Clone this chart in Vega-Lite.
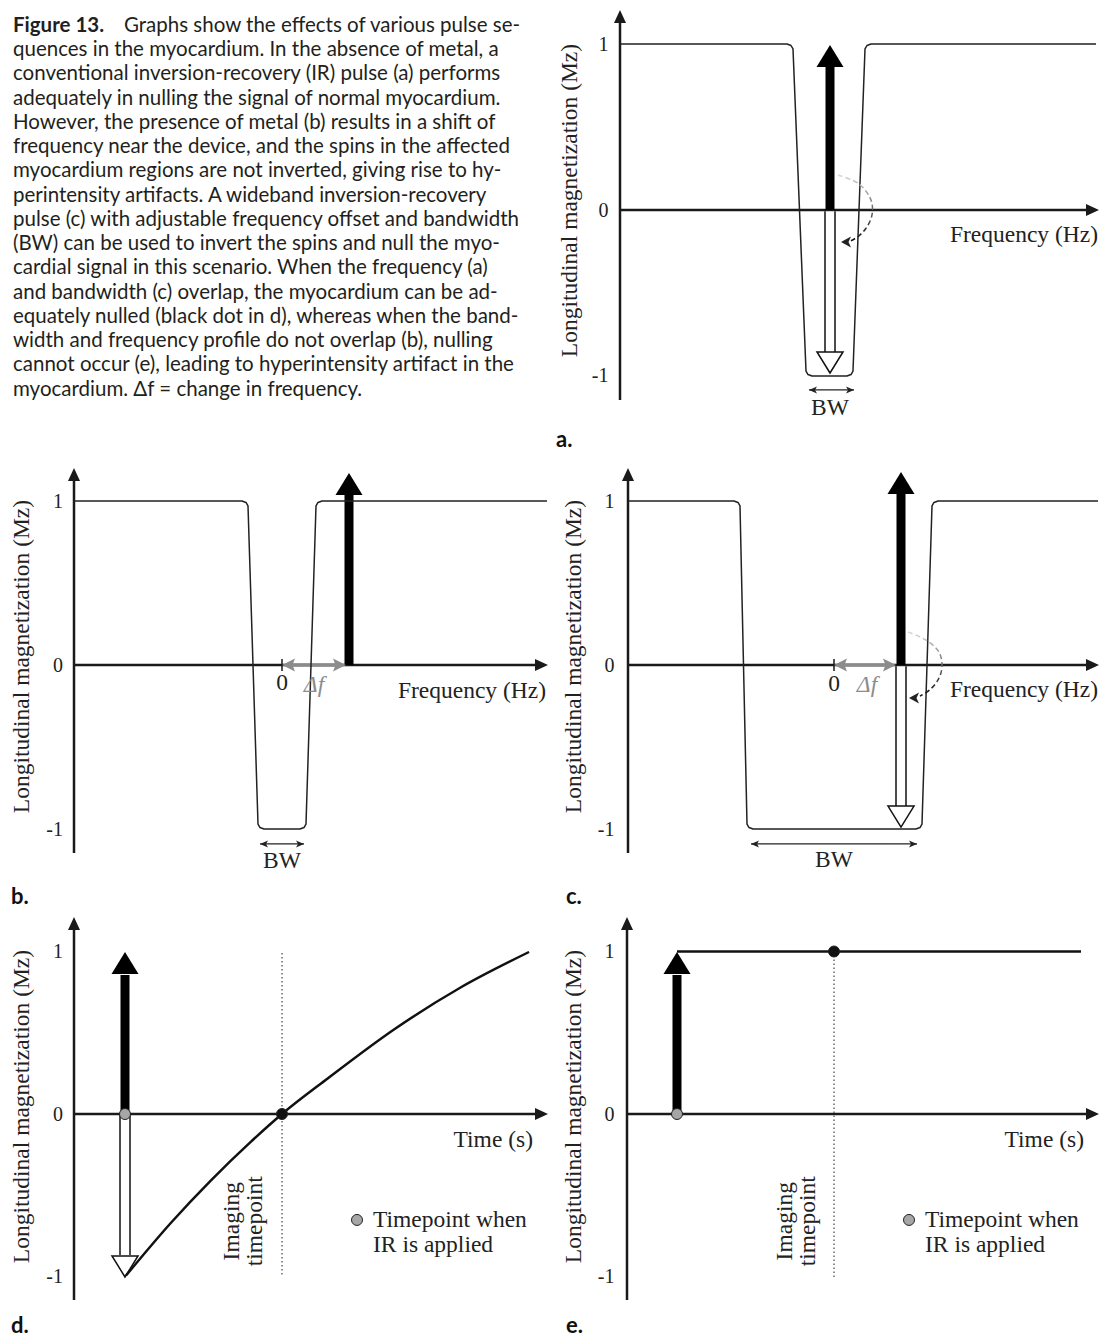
{
"$schema": "https://vega.github.io/schema/vega-lite/v6.json",
"padding": {"left": 9, "top": 0, "right": 0, "bottom": 0},
"background": "white",
"columns": 2,
"align": "each",
"bounds": "flush",
"spacing": {"row": 62, "column": 72},
"config": {
  "view": {"stroke": null},
  "legend": {"disable": true},
  "axis": {"labelFont": "Liberation Serif", "labelFontSize": 20, "labelColor": "#222", "titleFont": "Liberation Serif", "titleFontSize": 23.5, "titleFontWeight": "normal", "titleColor": "#222", "domain": false, "ticks": false, "tickSize": 0, "grid": false},
  "title": {"font": "Lato", "fontSize": 22, "fontWeight": "bold", "color": "#111", "orient": "bottom", "anchor": "start", "frame": "group", "baseline": "top"},
  "text": {"font": "Liberation Serif", "fontSize": 23.5, "color": "#222"}
},
"datasets": {
  "caption": [
    {"line": 1, "part": "label", "text": "Figure 13."},
    {"line": 1, "part": "first", "text": "Graphs show the effects of various pulse se-"},
    {"line": 2, "part": "body", "text": "quences in the myocardium. In the absence of metal, a"},
    {"line": 3, "part": "body", "text": "conventional inversion-recovery (IR) pulse (a) performs"},
    {"line": 4, "part": "body", "text": "adequately in nulling the signal of normal myocardium."},
    {"line": 5, "part": "body", "text": "However, the presence of metal (b) results in a shift of"},
    {"line": 6, "part": "body", "text": "frequency near the device, and the spins in the affected"},
    {"line": 7, "part": "body", "text": "myocardium regions are not inverted, giving rise to hy-"},
    {"line": 8, "part": "body", "text": "perintensity artifacts. A wideband inversion-recovery"},
    {"line": 9, "part": "body", "text": "pulse (c) with adjustable frequency offset and bandwidth"},
    {"line": 10, "part": "body", "text": "(BW) can be used to invert the spins and null the myo-"},
    {"line": 11, "part": "body", "text": "cardial signal in this scenario. When the frequency (a)"},
    {"line": 12, "part": "body", "text": "and bandwidth (c) overlap, the myocardium can be ad-"},
    {"line": 13, "part": "body", "text": "equately nulled (black dot in d), whereas when the band-"},
    {"line": 14, "part": "body", "text": "width and frequency profile do not overlap (b), nulling"},
    {"line": 15, "part": "body", "text": "cannot occur (e), leading to hyperintensity artifact in the"},
    {"line": 16, "part": "body", "text": "myocardium. Δf = change in frequency."}
  ],
  "rules": [
    {"panel": "a", "kind": "axis", "x": 0, "y": -1.1446, "x2": 0, "y2": 1.145},
    {"panel": "a", "kind": "axis", "x": 0, "y": 0, "x2": 93.4, "y2": 0},
    {"panel": "a", "kind": "shaft", "x": 42, "y": 0, "x2": 42, "y2": 0.861},
    {"panel": "a", "kind": "bw", "x": 37.8, "y": -1.084, "x2": 46.8, "y2": -1.084},
    {"panel": "b", "kind": "axis", "x": 0, "y": -1.146, "x2": 0, "y2": 1.14},
    {"panel": "b", "kind": "axis", "x": 0, "y": 0, "x2": 92.4, "y2": 0},
    {"panel": "b", "kind": "tick", "x": 41.6, "y": -0.037, "x2": 41.6, "y2": 0.037},
    {"panel": "b", "kind": "df", "x": 43.4, "y": 0, "x2": 52.6, "y2": 0},
    {"panel": "b", "kind": "shaft", "x": 55, "y": 0, "x2": 55, "y2": 1.037},
    {"panel": "b", "kind": "bw", "x": 37.2, "y": -1.091, "x2": 46, "y2": -1.091},
    {"panel": "c", "kind": "axis", "x": 0, "y": -1.146, "x2": 0, "y2": 1.14},
    {"panel": "c", "kind": "axis", "x": 0, "y": 0, "x2": 91.8, "y2": 0},
    {"panel": "c", "kind": "tick", "x": 41.2, "y": -0.037, "x2": 41.2, "y2": 0.037},
    {"panel": "c", "kind": "df", "x": 43, "y": 0, "x2": 51.8, "y2": 0},
    {"panel": "c", "kind": "shaft", "x": 54.6, "y": 0, "x2": 54.6, "y2": 1.043},
    {"panel": "c", "kind": "bw", "x": 24.6, "y": -1.091, "x2": 57.8, "y2": -1.091},
    {"panel": "d", "kind": "axis", "x": 0, "y": -1.1446, "x2": 0, "y2": 1.151},
    {"panel": "d", "kind": "axis", "x": 0, "y": 0, "x2": 92.4, "y2": 0},
    {"panel": "d", "kind": "dotted", "x": 41.6, "y": 0.991, "x2": 41.6, "y2": -1.003},
    {"panel": "d", "kind": "shaft", "x": 10.2, "y": 0, "x2": 10.2, "y2": 0.855},
    {"panel": "e", "kind": "axis", "x": 0, "y": -1.1446, "x2": 0, "y2": 1.151},
    {"panel": "e", "kind": "axis", "x": 0, "y": 0, "x2": 92, "y2": 0},
    {"panel": "e", "kind": "dotted", "x": 41.4, "y": 1.0, "x2": 41.4, "y2": -1.003},
    {"panel": "e", "kind": "shaft", "x": 10, "y": 0, "x2": 10, "y2": 0.855}
  ],
  "hollow": [
    {"panel": "a", "x": 42, "y": -0.008, "y2": -0.855},
    {"panel": "c", "x": 54.6, "y": -0.008, "y2": -0.866},
    {"panel": "d", "x": 10.2, "y": -0.008, "y2": -0.868}
  ],
  "whiteheads": [
    {"panel": "a", "x": 42, "y": -0.982},
    {"panel": "c", "x": 54.6, "y": -0.988},
    {"panel": "d", "x": 10.2, "y": -1.003}
  ],
  "heads": [
    {"panel": "a", "kind": "axis-up", "x": 0, "y": 1.205},
    {"panel": "a", "kind": "axis-right", "x": 95.8, "y": 0},
    {"panel": "a", "kind": "black-up", "x": 42, "y": 0.994},
    {"panel": "a", "kind": "bw-left", "x": 37.8, "y": -1.084},
    {"panel": "a", "kind": "bw-right", "x": 46.8, "y": -1.084},
    {"panel": "a", "kind": "arc-left", "x": 44.2, "y": -0.193},
    {"panel": "b", "kind": "axis-up", "x": 0, "y": 1.201},
    {"panel": "b", "kind": "axis-right", "x": 94.8, "y": 0},
    {"panel": "b", "kind": "black-up", "x": 55, "y": 1.171},
    {"panel": "b", "kind": "df-left", "x": 41.6, "y": 0},
    {"panel": "b", "kind": "df-right", "x": 54.4, "y": 0},
    {"panel": "b", "kind": "bw-left", "x": 37.2, "y": -1.091},
    {"panel": "b", "kind": "bw-right", "x": 46, "y": -1.091},
    {"panel": "c", "kind": "axis-up", "x": 0, "y": 1.201},
    {"panel": "c", "kind": "axis-right", "x": 94.2, "y": 0},
    {"panel": "c", "kind": "black-up", "x": 54.6, "y": 1.177},
    {"panel": "c", "kind": "df-left", "x": 41.2, "y": 0},
    {"panel": "c", "kind": "df-right", "x": 53.6, "y": 0},
    {"panel": "c", "kind": "bw-left", "x": 24.6, "y": -1.091},
    {"panel": "c", "kind": "bw-right", "x": 57.8, "y": -1.091},
    {"panel": "c", "kind": "arc-left", "x": 56.2, "y": -0.201},
    {"panel": "d", "kind": "axis-up", "x": 0, "y": 1.212},
    {"panel": "d", "kind": "axis-right", "x": 94.8, "y": 0},
    {"panel": "d", "kind": "black-up", "x": 10.2, "y": 0.997},
    {"panel": "e", "kind": "axis-up", "x": 0, "y": 1.212},
    {"panel": "e", "kind": "axis-right", "x": 94.4, "y": 0},
    {"panel": "e", "kind": "black-up", "x": 10, "y": 0.997}
  ],
  "profile": [
    {"panel": "a", "x": 0, "y": 1}, {"panel": "a", "x": 33.4, "y": 1}, {"panel": "a", "x": 34.2, "y": 0.991}, {"panel": "a", "x": 34.6, "y": 0.97},
    {"panel": "a", "x": 37.2, "y": -0.97}, {"panel": "a", "x": 37.6, "y": -0.991}, {"panel": "a", "x": 38.4, "y": -1}, {"panel": "a", "x": 45.4, "y": -1},
    {"panel": "a", "x": 46.2, "y": -0.991}, {"panel": "a", "x": 46.6, "y": -0.97}, {"panel": "a", "x": 49, "y": 0.97}, {"panel": "a", "x": 49.4, "y": 0.991},
    {"panel": "a", "x": 50.2, "y": 1}, {"panel": "a", "x": 95.2, "y": 1},
    {"panel": "b", "x": 0, "y": 1}, {"panel": "b", "x": 33.6, "y": 1}, {"panel": "b", "x": 34.4, "y": 0.991}, {"panel": "b", "x": 34.8, "y": 0.97},
    {"panel": "b", "x": 36.8, "y": -0.97}, {"panel": "b", "x": 37.2, "y": -0.991}, {"panel": "b", "x": 38, "y": -1}, {"panel": "b", "x": 45.2, "y": -1},
    {"panel": "b", "x": 46, "y": -0.991}, {"panel": "b", "x": 46.4, "y": -0.97}, {"panel": "b", "x": 48.4, "y": 0.97}, {"panel": "b", "x": 48.8, "y": 0.991},
    {"panel": "b", "x": 49.6, "y": 1}, {"panel": "b", "x": 94.6, "y": 1},
    {"panel": "c", "x": 0, "y": 1}, {"panel": "c", "x": 21.2, "y": 1}, {"panel": "c", "x": 22, "y": 0.991}, {"panel": "c", "x": 22.4, "y": 0.97},
    {"panel": "c", "x": 23.8, "y": -0.97}, {"panel": "c", "x": 24.2, "y": -0.991}, {"panel": "c", "x": 25, "y": -1}, {"panel": "c", "x": 57.6, "y": -1},
    {"panel": "c", "x": 58.4, "y": -0.991}, {"panel": "c", "x": 58.8, "y": -0.97}, {"panel": "c", "x": 60.8, "y": 0.97}, {"panel": "c", "x": 61.2, "y": 0.991},
    {"panel": "c", "x": 62, "y": 1}, {"panel": "c", "x": 94, "y": 1},
    {"panel": "d", "x": 10.4, "y": -0.994}, {"panel": "d", "x": 19.4, "y": -0.669}, {"panel": "d", "x": 27.4, "y": -0.408}, {"panel": "d", "x": 35.4, "y": -0.17},
    {"panel": "d", "x": 41.6, "y": 0}, {"panel": "d", "x": 50.8, "y": 0.22}, {"panel": "d", "x": 64, "y": 0.52}, {"panel": "d", "x": 77.4, "y": 0.78}, {"panel": "d", "x": 91, "y": 0.997},
    {"panel": "e", "x": 10, "y": 1}, {"panel": "e", "x": 90.8, "y": 1}
  ],
  "arc": [
    {"panel": "a", "i": 1, "x": 43.6, "y": 0.211}, {"panel": "a", "i": 2, "x": 47.8, "y": 0.157}, {"panel": "a", "i": 3, "x": 50.2, "y": 0.06},
    {"panel": "a", "i": 4, "x": 50.4, "y": -0.03}, {"panel": "a", "i": 5, "x": 49.2, "y": -0.11}, {"panel": "a", "i": 6, "x": 47.6, "y": -0.16}, {"panel": "a", "i": 7, "x": 46.2, "y": -0.185},
    {"panel": "c", "i": 1, "x": 56, "y": 0.201}, {"panel": "c", "i": 2, "x": 59.6, "y": 0.152}, {"panel": "c", "i": 3, "x": 62.2, "y": 0.079},
    {"panel": "c", "i": 4, "x": 62.8, "y": -0.012}, {"panel": "c", "i": 5, "x": 62, "y": -0.091}, {"panel": "c", "i": 6, "x": 60.4, "y": -0.15}, {"panel": "c", "i": 7, "x": 58.4, "y": -0.19}
  ],
  "dots": [
    {"panel": "d", "kind": "ir", "x": 10.2, "y": 0},
    {"panel": "d", "kind": "imaging", "x": 41.6, "y": 0},
    {"panel": "d", "kind": "ir", "x": 56.6, "y": -0.652},
    {"panel": "e", "kind": "ir", "x": 10, "y": 0},
    {"panel": "e", "kind": "imaging", "x": 41.4, "y": 1},
    {"panel": "e", "kind": "ir", "x": 56.4, "y": -0.652}
  ],
  "labels": [
    {"panel": "a", "style": "center", "x": 42, "y": -1.193, "label": "BW"},
    {"panel": "a", "style": "right", "x": 95.6, "y": -0.151, "label": "Frequency (Hz)"},
    {"panel": "b", "style": "center", "x": 41.6, "y": -1.195, "label": "BW"},
    {"panel": "b", "style": "center", "x": 41.6, "y": -0.11, "label": "0"},
    {"panel": "b", "style": "right", "x": 94.4, "y": -0.159, "label": "Frequency (Hz)"},
    {"panel": "b", "style": "df", "x": 48, "y": -0.122, "label": "Δf"},
    {"panel": "c", "style": "center", "x": 41.2, "y": -1.189, "label": "BW"},
    {"panel": "c", "style": "center", "x": 41.2, "y": -0.116, "label": "0"},
    {"panel": "c", "style": "right", "x": 94, "y": -0.152, "label": "Frequency (Hz)"},
    {"panel": "c", "style": "df", "x": 47.8, "y": -0.122, "label": "Δf"},
    {"panel": "d", "style": "right", "x": 91.8, "y": -0.16, "label": "Time (s)"},
    {"panel": "d", "style": "rot", "x": 31.6, "y": -0.66, "label": ["Imaging", "timepoint"]},
    {"panel": "d", "style": "left", "x": 59.8, "y": -0.652, "label": ["Timepoint when", "IR is applied"]},
    {"panel": "e", "style": "right", "x": 91.4, "y": -0.16, "label": "Time (s)"},
    {"panel": "e", "style": "rot", "x": 31.5, "y": -0.66, "label": ["Imaging", "timepoint"]},
    {"panel": "e", "style": "left", "x": 59.6, "y": -0.652, "label": ["Timepoint when", "IR is applied"]}
  ]
},
"concat": [
  {
    "width": 474, "height": 400,
    "data": {"name": "caption"},
    "encoding": {
      "x": {"datum": 0, "type": "quantitative", "scale": {"domain": [0, 1]}, "axis": null},
      "y": {"field": "line", "type": "quantitative", "scale": {"domain": [-0.306, 16.175], "reverse": true, "nice": false, "zero": false}, "axis": null},
      "text": {"field": "text", "type": "nominal"}
    },
    "layer": [
      {"transform": [{"filter": "datum.part == 'label'"}], "mark": {"type": "text", "font": "Lato", "fontSize": 20.5, "fontWeight": "bold", "align": "left", "baseline": "alphabetic", "dx": -61, "color": "#231f20"}},
      {"transform": [{"filter": "datum.part == 'first'"}], "mark": {"type": "text", "font": "Lato", "fontSize": 20.5, "align": "left", "baseline": "alphabetic", "dx": 50, "color": "#231f20"}},
      {"transform": [{"filter": "datum.part == 'body'"}], "mark": {"type": "text", "font": "Lato", "fontSize": 20.5, "align": "left", "baseline": "alphabetic", "dx": -61, "color": "#231f20"}}
    ]
  },
  {
    "width": 479, "height": 400,
    "title": {"text": "a.", "dx": -64, "offset": 10},
    "encoding": {
      "x": {"field": "x", "type": "quantitative", "scale": {"domain": [0, 95.8], "nice": false, "zero": false}, "axis": null},
      "y": {"field": "y", "type": "quantitative", "scale": {"domain": [-1.1446, 1.2651], "nice": false, "zero": false}, "axis": {"values": [-1, 0, 1], "labelExpr": "toString(datum.value)", "title": "Longitudinal magnetization (Mz)", "labelPadding": 12, "titlePadding": 10}}
    },
    "layer": [
      {"data": {"name": "rules"}, "transform": [{"filter": "datum.panel == 'a'"}], "mark": {"type": "rule"},
       "encoding": {"x2": {"field": "x2"}, "y2": {"field": "y2"},
         "color": {"field": "kind", "type": "nominal", "legend": null, "scale": {"domain": ["axis","tick","bw","df","dotted","shaft","axis-up","axis-right","black-up","bw-left","bw-right","df-left","df-right","arc-left"], "range": ["#1a1a1a","#1a1a1a","#222222","#8c8c8c","#555555","#000000","#1a1a1a","#1a1a1a","#000000","#222222","#222222","#8c8c8c","#8c8c8c","#222222"]}},
         "strokeWidth": {"field": "kind", "type": "nominal", "legend": null, "scale": {"type": "ordinal", "domain": ["axis","tick","bw","df","dotted","shaft"], "range": [2.5, 1.5, 1.3, 3.5, 1.3, 9]}},
         "strokeDash": {"field": "kind", "type": "nominal", "legend": null, "scale": {"domain": ["axis","tick","bw","df","dotted","shaft"], "range": [[1,0],[1,0],[1,0],[1,0],[1.5,2.5],[1,0]]}}}},
      {"data": {"name": "hollow"}, "transform": [{"filter": "datum.panel == 'a'"}], "mark": {"type": "rule", "color": "#111111", "strokeWidth": 11.5}, "encoding": {"y2": {"field": "y2"}}},
      {"data": {"name": "hollow"}, "transform": [{"filter": "datum.panel == 'a'"}], "mark": {"type": "rule", "color": "#ffffff", "strokeWidth": 8.5}, "encoding": {"y2": {"field": "y2"}}},
      {"data": {"name": "whiteheads"}, "transform": [{"filter": "datum.panel == 'a'"}], "mark": {"type": "point", "shape": "M0,0L-13,-21L13,-21Z", "size": 4, "filled": true, "fill": "#ffffff", "stroke": "#111111", "strokeWidth": 1.5, "opacity": 1}},
      {"data": {"name": "profile"}, "transform": [{"filter": "datum.panel == 'a'"}], "mark": {"type": "line", "color": "#222222", "strokeWidth": 1.5, "strokeJoin": "round"}},
      {"data": {"name": "arc"}, "transform": [{"filter": "datum.panel == 'a'"}], "mark": {"type": "line", "stroke": {"gradient": "linear", "x1": 0, "y1": 0, "x2": 0, "y2": 1, "stops": [{"offset": 0, "color": "#d9d9d9"}, {"offset": 0.45, "color": "#777777"}, {"offset": 1, "color": "#111111"}]}, "strokeWidth": 1.5, "strokeDash": [5, 3], "interpolate": "catmull-rom"}, "encoding": {"order": {"field": "i", "type": "quantitative"}}},
      {"data": {"name": "heads"}, "transform": [{"filter": "datum.panel == 'a'"}], "mark": {"type": "point", "size": 4, "filled": true, "opacity": 1},
       "encoding": {
         "shape": {"field": "kind", "type": "nominal", "legend": null, "scale": {"domain": ["axis-up","axis-right","black-up","bw-left","bw-right","df-left","df-right","arc-left"], "range": ["M0,0L-6,13L6,13Z","M0,0L-13,-6L-13,6Z","M0,0L-13.5,22L13.5,22Z","M0,0L8,-3.5L6,0L8,3.5Z","M0,0L-8,-3.5L-6,0L-8,3.5Z","M0,0L13,-6.5L10.5,0L13,6.5Z","M0,0L-13,-6.5L-10.5,0L-13,6.5Z","M0,0L10,-5.5L7.5,0L10,5.5Z"]}},
         "color": {"field": "kind", "type": "nominal", "legend": null, "scale": {"domain": ["axis","tick","bw","df","dotted","shaft","axis-up","axis-right","black-up","bw-left","bw-right","df-left","df-right","arc-left"], "range": ["#1a1a1a","#1a1a1a","#222222","#8c8c8c","#555555","#000000","#1a1a1a","#1a1a1a","#000000","#222222","#222222","#8c8c8c","#8c8c8c","#222222"]}}}},
      {"data": {"name": "labels"}, "transform": [{"filter": "datum.panel == 'a' && datum.style == 'center'"}], "mark": {"type": "text", "align": "center", "baseline": "middle"}, "encoding": {"text": {"field": "label", "type": "nominal"}}},
      {"data": {"name": "labels"}, "transform": [{"filter": "datum.panel == 'a' && datum.style == 'right'"}], "mark": {"type": "text", "align": "right", "baseline": "middle"}, "encoding": {"text": {"field": "label", "type": "nominal"}}}
    ]
  },
  {
    "width": 474, "height": 388,
    "title": {"text": "b.", "dx": -63, "offset": 15},
    "encoding": {
      "x": {"field": "x", "type": "quantitative", "scale": {"domain": [0, 94.8], "nice": false, "zero": false}, "axis": null},
      "y": {"field": "y", "type": "quantitative", "scale": {"domain": [-1.128, 1.2378], "nice": false, "zero": false}, "axis": {"values": [-1, 0, 1], "labelExpr": "toString(datum.value)", "title": "Longitudinal magnetization (Mz)", "labelPadding": 11.5, "titlePadding": 12}}
    },
    "layer": [
      {"data": {"name": "rules"}, "transform": [{"filter": "datum.panel == 'b'"}], "mark": {"type": "rule"},
       "encoding": {"x2": {"field": "x2"}, "y2": {"field": "y2"},
         "color": {"field": "kind", "type": "nominal", "legend": null, "scale": {"domain": ["axis","tick","bw","df","dotted","shaft","axis-up","axis-right","black-up","bw-left","bw-right","df-left","df-right","arc-left"], "range": ["#1a1a1a","#1a1a1a","#222222","#8c8c8c","#555555","#000000","#1a1a1a","#1a1a1a","#000000","#222222","#222222","#8c8c8c","#8c8c8c","#222222"]}},
         "strokeWidth": {"field": "kind", "type": "nominal", "legend": null, "scale": {"type": "ordinal", "domain": ["axis","tick","bw","df","dotted","shaft"], "range": [2.5, 1.5, 1.3, 3.5, 1.3, 9]}},
         "strokeDash": {"field": "kind", "type": "nominal", "legend": null, "scale": {"domain": ["axis","tick","bw","df","dotted","shaft"], "range": [[1,0],[1,0],[1,0],[1,0],[1.5,2.5],[1,0]]}}}},
      {"data": {"name": "profile"}, "transform": [{"filter": "datum.panel == 'b'"}], "mark": {"type": "line", "color": "#222222", "strokeWidth": 1.5, "strokeJoin": "round"}},
      {"data": {"name": "heads"}, "transform": [{"filter": "datum.panel == 'b'"}], "mark": {"type": "point", "size": 4, "filled": true, "opacity": 1},
       "encoding": {
         "shape": {"field": "kind", "type": "nominal", "legend": null, "scale": {"domain": ["axis-up","axis-right","black-up","bw-left","bw-right","df-left","df-right","arc-left"], "range": ["M0,0L-6,13L6,13Z","M0,0L-13,-6L-13,6Z","M0,0L-13.5,22L13.5,22Z","M0,0L8,-3.5L6,0L8,3.5Z","M0,0L-8,-3.5L-6,0L-8,3.5Z","M0,0L13,-6.5L10.5,0L13,6.5Z","M0,0L-13,-6.5L-10.5,0L-13,6.5Z","M0,0L10,-5.5L7.5,0L10,5.5Z"]}},
         "color": {"field": "kind", "type": "nominal", "legend": null, "scale": {"domain": ["axis","tick","bw","df","dotted","shaft","axis-up","axis-right","black-up","bw-left","bw-right","df-left","df-right","arc-left"], "range": ["#1a1a1a","#1a1a1a","#222222","#8c8c8c","#555555","#000000","#1a1a1a","#1a1a1a","#000000","#222222","#222222","#8c8c8c","#8c8c8c","#222222"]}}}},
      {"data": {"name": "labels"}, "transform": [{"filter": "datum.panel == 'b' && datum.style == 'center'"}], "mark": {"type": "text", "align": "center", "baseline": "middle"}, "encoding": {"text": {"field": "label", "type": "nominal"}}},
      {"data": {"name": "labels"}, "transform": [{"filter": "datum.panel == 'b' && datum.style == 'right'"}], "mark": {"type": "text", "align": "right", "baseline": "middle"}, "encoding": {"text": {"field": "label", "type": "nominal"}}},
      {"data": {"name": "labels"}, "transform": [{"filter": "datum.panel == 'b' && datum.style == 'df'"}], "mark": {"type": "text", "align": "center", "baseline": "middle", "color": "#8c8c8c", "fontStyle": "italic"}, "encoding": {"text": {"field": "label", "type": "nominal"}}}
    ]
  },
  {
    "width": 479, "height": 388,
    "title": {"text": "c.", "dx": -54, "offset": 15},
    "encoding": {
      "x": {"field": "x", "type": "quantitative", "scale": {"domain": [-1.6, 94.2], "nice": false, "zero": false}, "axis": null},
      "y": {"field": "y", "type": "quantitative", "scale": {"domain": [-1.128, 1.2378], "nice": false, "zero": false}, "axis": {"values": [-1, 0, 1], "labelExpr": "toString(datum.value)", "title": "Longitudinal magnetization (Mz)", "labelPadding": 6, "titlePadding": 12}}
    },
    "layer": [
      {"data": {"name": "rules"}, "transform": [{"filter": "datum.panel == 'c'"}], "mark": {"type": "rule"},
       "encoding": {"x2": {"field": "x2"}, "y2": {"field": "y2"},
         "color": {"field": "kind", "type": "nominal", "legend": null, "scale": {"domain": ["axis","tick","bw","df","dotted","shaft","axis-up","axis-right","black-up","bw-left","bw-right","df-left","df-right","arc-left"], "range": ["#1a1a1a","#1a1a1a","#222222","#8c8c8c","#555555","#000000","#1a1a1a","#1a1a1a","#000000","#222222","#222222","#8c8c8c","#8c8c8c","#222222"]}},
         "strokeWidth": {"field": "kind", "type": "nominal", "legend": null, "scale": {"type": "ordinal", "domain": ["axis","tick","bw","df","dotted","shaft"], "range": [2.5, 1.5, 1.3, 3.5, 1.3, 9]}},
         "strokeDash": {"field": "kind", "type": "nominal", "legend": null, "scale": {"domain": ["axis","tick","bw","df","dotted","shaft"], "range": [[1,0],[1,0],[1,0],[1,0],[1.5,2.5],[1,0]]}}}},
      {"data": {"name": "hollow"}, "transform": [{"filter": "datum.panel == 'c'"}], "mark": {"type": "rule", "color": "#111111", "strokeWidth": 11.5}, "encoding": {"y2": {"field": "y2"}}},
      {"data": {"name": "hollow"}, "transform": [{"filter": "datum.panel == 'c'"}], "mark": {"type": "rule", "color": "#ffffff", "strokeWidth": 8.5}, "encoding": {"y2": {"field": "y2"}}},
      {"data": {"name": "whiteheads"}, "transform": [{"filter": "datum.panel == 'c'"}], "mark": {"type": "point", "shape": "M0,0L-13,-21L13,-21Z", "size": 4, "filled": true, "fill": "#ffffff", "stroke": "#111111", "strokeWidth": 1.5, "opacity": 1}},
      {"data": {"name": "profile"}, "transform": [{"filter": "datum.panel == 'c'"}], "mark": {"type": "line", "color": "#222222", "strokeWidth": 1.5, "strokeJoin": "round"}},
      {"data": {"name": "arc"}, "transform": [{"filter": "datum.panel == 'c'"}], "mark": {"type": "line", "stroke": {"gradient": "linear", "x1": 0, "y1": 0, "x2": 0, "y2": 1, "stops": [{"offset": 0, "color": "#d9d9d9"}, {"offset": 0.45, "color": "#777777"}, {"offset": 1, "color": "#111111"}]}, "strokeWidth": 1.5, "strokeDash": [5, 3], "interpolate": "catmull-rom"}, "encoding": {"order": {"field": "i", "type": "quantitative"}}},
      {"data": {"name": "heads"}, "transform": [{"filter": "datum.panel == 'c'"}], "mark": {"type": "point", "size": 4, "filled": true, "opacity": 1},
       "encoding": {
         "shape": {"field": "kind", "type": "nominal", "legend": null, "scale": {"domain": ["axis-up","axis-right","black-up","bw-left","bw-right","df-left","df-right","arc-left"], "range": ["M0,0L-6,13L6,13Z","M0,0L-13,-6L-13,6Z","M0,0L-13.5,22L13.5,22Z","M0,0L8,-3.5L6,0L8,3.5Z","M0,0L-8,-3.5L-6,0L-8,3.5Z","M0,0L13,-6.5L10.5,0L13,6.5Z","M0,0L-13,-6.5L-10.5,0L-13,6.5Z","M0,0L10,-5.5L7.5,0L10,5.5Z"]}},
         "color": {"field": "kind", "type": "nominal", "legend": null, "scale": {"domain": ["axis","tick","bw","df","dotted","shaft","axis-up","axis-right","black-up","bw-left","bw-right","df-left","df-right","arc-left"], "range": ["#1a1a1a","#1a1a1a","#222222","#8c8c8c","#555555","#000000","#1a1a1a","#1a1a1a","#000000","#222222","#222222","#8c8c8c","#8c8c8c","#222222"]}}}},
      {"data": {"name": "labels"}, "transform": [{"filter": "datum.panel == 'c' && datum.style == 'center'"}], "mark": {"type": "text", "align": "center", "baseline": "middle"}, "encoding": {"text": {"field": "label", "type": "nominal"}}},
      {"data": {"name": "labels"}, "transform": [{"filter": "datum.panel == 'c' && datum.style == 'right'"}], "mark": {"type": "text", "align": "right", "baseline": "middle"}, "encoding": {"text": {"field": "label", "type": "nominal"}}},
      {"data": {"name": "labels"}, "transform": [{"filter": "datum.panel == 'c' && datum.style == 'df'"}], "mark": {"type": "text", "align": "center", "baseline": "middle", "color": "#8c8c8c", "fontStyle": "italic"}, "encoding": {"text": {"field": "label", "type": "nominal"}}}
    ]
  },
  {
    "width": 474, "height": 388,
    "title": {"text": "d.", "dx": -63, "offset": 15},
    "encoding": {
      "x": {"field": "x", "type": "quantitative", "scale": {"domain": [0, 94.8], "nice": false, "zero": false}, "axis": null},
      "y": {"field": "y", "type": "quantitative", "scale": {"domain": [-1.1446, 1.2431], "nice": false, "zero": false}, "axis": {"values": [-1, 0, 1], "labelExpr": "toString(datum.value)", "title": "Longitudinal magnetization (Mz)", "labelPadding": 11.5, "titlePadding": 12}}
    },
    "layer": [
      {"data": {"name": "rules"}, "transform": [{"filter": "datum.panel == 'd'"}], "mark": {"type": "rule"},
       "encoding": {"x2": {"field": "x2"}, "y2": {"field": "y2"},
         "color": {"field": "kind", "type": "nominal", "legend": null, "scale": {"domain": ["axis","tick","bw","df","dotted","shaft","axis-up","axis-right","black-up","bw-left","bw-right","df-left","df-right","arc-left"], "range": ["#1a1a1a","#1a1a1a","#222222","#8c8c8c","#555555","#000000","#1a1a1a","#1a1a1a","#000000","#222222","#222222","#8c8c8c","#8c8c8c","#222222"]}},
         "strokeWidth": {"field": "kind", "type": "nominal", "legend": null, "scale": {"type": "ordinal", "domain": ["axis","tick","bw","df","dotted","shaft"], "range": [2.5, 1.5, 1.3, 3.5, 1.3, 9]}},
         "strokeDash": {"field": "kind", "type": "nominal", "legend": null, "scale": {"domain": ["axis","tick","bw","df","dotted","shaft"], "range": [[1,0],[1,0],[1,0],[1,0],[1.5,2.5],[1,0]]}}}},
      {"data": {"name": "hollow"}, "transform": [{"filter": "datum.panel == 'd'"}], "mark": {"type": "rule", "color": "#111111", "strokeWidth": 11.5}, "encoding": {"y2": {"field": "y2"}}},
      {"data": {"name": "hollow"}, "transform": [{"filter": "datum.panel == 'd'"}], "mark": {"type": "rule", "color": "#ffffff", "strokeWidth": 8.5}, "encoding": {"y2": {"field": "y2"}}},
      {"data": {"name": "whiteheads"}, "transform": [{"filter": "datum.panel == 'd'"}], "mark": {"type": "point", "shape": "M0,0L-13,-21L13,-21Z", "size": 4, "filled": true, "fill": "#ffffff", "stroke": "#111111", "strokeWidth": 1.5, "opacity": 1}},
      {"data": {"name": "profile"}, "transform": [{"filter": "datum.panel == 'd'"}], "mark": {"type": "line", "color": "#111111", "strokeWidth": 2.5, "interpolate": "monotone"}},
      {"data": {"name": "heads"}, "transform": [{"filter": "datum.panel == 'd'"}], "mark": {"type": "point", "size": 4, "filled": true, "opacity": 1},
       "encoding": {
         "shape": {"field": "kind", "type": "nominal", "legend": null, "scale": {"domain": ["axis-up","axis-right","black-up","bw-left","bw-right","df-left","df-right","arc-left"], "range": ["M0,0L-6,13L6,13Z","M0,0L-13,-6L-13,6Z","M0,0L-13.5,22L13.5,22Z","M0,0L8,-3.5L6,0L8,3.5Z","M0,0L-8,-3.5L-6,0L-8,3.5Z","M0,0L13,-6.5L10.5,0L13,6.5Z","M0,0L-13,-6.5L-10.5,0L-13,6.5Z","M0,0L10,-5.5L7.5,0L10,5.5Z"]}},
         "color": {"field": "kind", "type": "nominal", "legend": null, "scale": {"domain": ["axis","tick","bw","df","dotted","shaft","axis-up","axis-right","black-up","bw-left","bw-right","df-left","df-right","arc-left"], "range": ["#1a1a1a","#1a1a1a","#222222","#8c8c8c","#555555","#000000","#1a1a1a","#1a1a1a","#000000","#222222","#222222","#8c8c8c","#8c8c8c","#222222"]}}}},
      {"data": {"name": "dots"}, "transform": [{"filter": "datum.panel == 'd'"}], "mark": {"type": "point", "shape": "circle", "size": 121, "filled": true, "stroke": "#222222", "strokeWidth": 1, "opacity": 1},
       "encoding": {"fill": {"field": "kind", "type": "nominal", "legend": null, "scale": {"domain": ["ir", "imaging"], "range": ["#a6a6a6", "#111111"]}}}},
      {"data": {"name": "labels"}, "transform": [{"filter": "datum.panel == 'd' && datum.style == 'right'"}], "mark": {"type": "text", "align": "right", "baseline": "middle"}, "encoding": {"text": {"field": "label", "type": "nominal"}}},
      {"data": {"name": "labels"}, "transform": [{"filter": "datum.panel == 'd' && datum.style == 'rot'"}], "mark": {"type": "text", "align": "center", "baseline": "middle", "angle": 270, "lineHeight": 23}, "encoding": {"text": {"field": "label", "type": "nominal"}}},
      {"data": {"name": "labels"}, "transform": [{"filter": "datum.panel == 'd' && datum.style == 'left'"}], "mark": {"type": "text", "align": "left", "baseline": "middle", "lineHeight": 25}, "encoding": {"text": {"field": "label", "type": "nominal"}}}
    ]
  },
  {
    "width": 479, "height": 388,
    "title": {"text": "e.", "dx": -54, "offset": 15},
    "encoding": {
      "x": {"field": "x", "type": "quantitative", "scale": {"domain": [-1.4, 94.4], "nice": false, "zero": false}, "axis": null},
      "y": {"field": "y", "type": "quantitative", "scale": {"domain": [-1.1446, 1.2431], "nice": false, "zero": false}, "axis": {"values": [-1, 0, 1], "labelExpr": "toString(datum.value)", "title": "Longitudinal magnetization (Mz)", "labelPadding": 6, "titlePadding": 12}}
    },
    "layer": [
      {"data": {"name": "rules"}, "transform": [{"filter": "datum.panel == 'e'"}], "mark": {"type": "rule"},
       "encoding": {"x2": {"field": "x2"}, "y2": {"field": "y2"},
         "color": {"field": "kind", "type": "nominal", "legend": null, "scale": {"domain": ["axis","tick","bw","df","dotted","shaft","axis-up","axis-right","black-up","bw-left","bw-right","df-left","df-right","arc-left"], "range": ["#1a1a1a","#1a1a1a","#222222","#8c8c8c","#555555","#000000","#1a1a1a","#1a1a1a","#000000","#222222","#222222","#8c8c8c","#8c8c8c","#222222"]}},
         "strokeWidth": {"field": "kind", "type": "nominal", "legend": null, "scale": {"type": "ordinal", "domain": ["axis","tick","bw","df","dotted","shaft"], "range": [2.5, 1.5, 1.3, 3.5, 1.3, 9]}},
         "strokeDash": {"field": "kind", "type": "nominal", "legend": null, "scale": {"domain": ["axis","tick","bw","df","dotted","shaft"], "range": [[1,0],[1,0],[1,0],[1,0],[1.5,2.5],[1,0]]}}}},
      {"data": {"name": "profile"}, "transform": [{"filter": "datum.panel == 'e'"}], "mark": {"type": "line", "color": "#111111", "strokeWidth": 2.5}},
      {"data": {"name": "heads"}, "transform": [{"filter": "datum.panel == 'e'"}], "mark": {"type": "point", "size": 4, "filled": true, "opacity": 1},
       "encoding": {
         "shape": {"field": "kind", "type": "nominal", "legend": null, "scale": {"domain": ["axis-up","axis-right","black-up","bw-left","bw-right","df-left","df-right","arc-left"], "range": ["M0,0L-6,13L6,13Z","M0,0L-13,-6L-13,6Z","M0,0L-13.5,22L13.5,22Z","M0,0L8,-3.5L6,0L8,3.5Z","M0,0L-8,-3.5L-6,0L-8,3.5Z","M0,0L13,-6.5L10.5,0L13,6.5Z","M0,0L-13,-6.5L-10.5,0L-13,6.5Z","M0,0L10,-5.5L7.5,0L10,5.5Z"]}},
         "color": {"field": "kind", "type": "nominal", "legend": null, "scale": {"domain": ["axis","tick","bw","df","dotted","shaft","axis-up","axis-right","black-up","bw-left","bw-right","df-left","df-right","arc-left"], "range": ["#1a1a1a","#1a1a1a","#222222","#8c8c8c","#555555","#000000","#1a1a1a","#1a1a1a","#000000","#222222","#222222","#8c8c8c","#8c8c8c","#222222"]}}}},
      {"data": {"name": "dots"}, "transform": [{"filter": "datum.panel == 'e'"}], "mark": {"type": "point", "shape": "circle", "size": 121, "filled": true, "stroke": "#222222", "strokeWidth": 1, "opacity": 1},
       "encoding": {"fill": {"field": "kind", "type": "nominal", "legend": null, "scale": {"domain": ["ir", "imaging"], "range": ["#a6a6a6", "#111111"]}}}},
      {"data": {"name": "labels"}, "transform": [{"filter": "datum.panel == 'e' && datum.style == 'right'"}], "mark": {"type": "text", "align": "right", "baseline": "middle"}, "encoding": {"text": {"field": "label", "type": "nominal"}}},
      {"data": {"name": "labels"}, "transform": [{"filter": "datum.panel == 'e' && datum.style == 'rot'"}], "mark": {"type": "text", "align": "center", "baseline": "middle", "angle": 270, "lineHeight": 23}, "encoding": {"text": {"field": "label", "type": "nominal"}}},
      {"data": {"name": "labels"}, "transform": [{"filter": "datum.panel == 'e' && datum.style == 'left'"}], "mark": {"type": "text", "align": "left", "baseline": "middle", "lineHeight": 25}, "encoding": {"text": {"field": "label", "type": "nominal"}}}
    ]
  }
]
}
